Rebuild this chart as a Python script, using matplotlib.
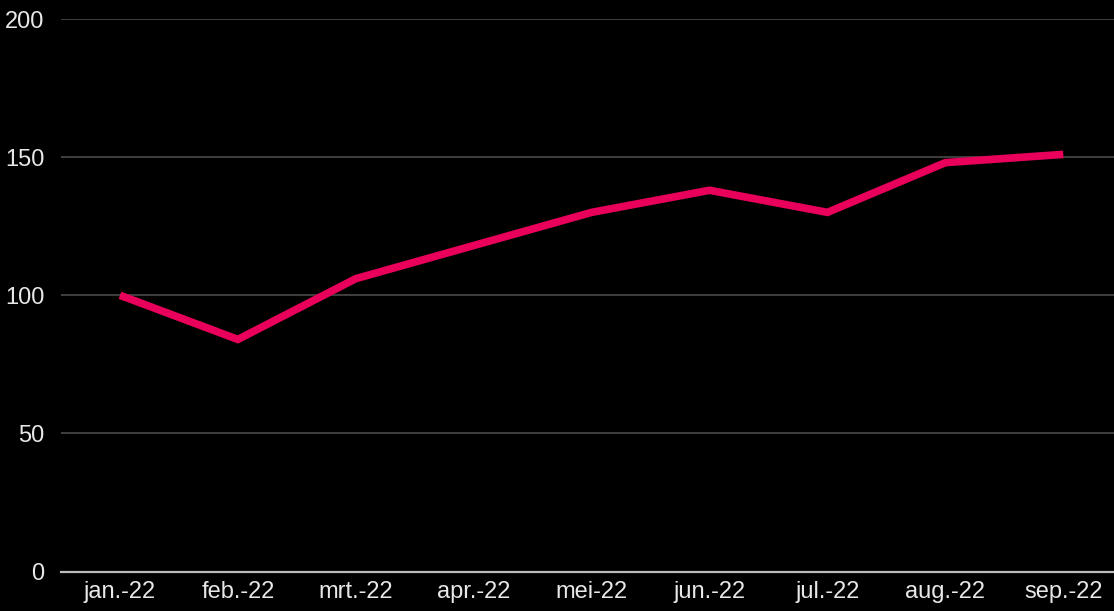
import matplotlib
matplotlib.use('Agg')
import matplotlib.pyplot as plt

# data
months = ['jan.-22', 'feb.-22', 'mrt.-22', 'apr.-22', 'mei-22',
          'jun.-22', 'jul.-22', 'aug.-22', 'sep.-22']
values = [100, 84, 106, 118, 130, 138, 130, 148, 151]
yticks = [0, 50, 100, 150, 200]

plt.rcParams['font.family'] = ['Liberation Sans', 'DejaVu Sans']

fig = plt.figure(figsize=(11.14, 6.11), dpi=100, facecolor='black')
ax = fig.add_axes([61 / 1114, 39.5 / 611, (1114 - 61) / 1114, 552.5 / 611])
ax.set_facecolor('black')

x = list(range(len(months)))
ax.plot(x, values, color='#e8005a', linewidth=5.5, solid_capstyle='butt',
        solid_joinstyle='miter', zorder=3)

ax.set_xlim(-0.5, 8.43)
ax.set_ylim(0, 200)
ax.set_yticks(yticks)
ax.set_xticks(x)
ax.set_xticklabels(months)

# gridlines
for t in yticks[1:]:
    ax.axhline(t, color='#444444', linewidth=1.3, zorder=1)
ax.axhline(0, color='#bbbbbb', linewidth=1.6, zorder=2, clip_on=False)

for s in ax.spines.values():
    s.set_visible(False)

ax.tick_params(axis='both', length=0, colors='#e8e8e8', labelsize=17)
ax.tick_params(axis='y', pad=12)
ax.tick_params(axis='x', pad=7)

plt.savefig('out.png', dpi=100, facecolor='black')
